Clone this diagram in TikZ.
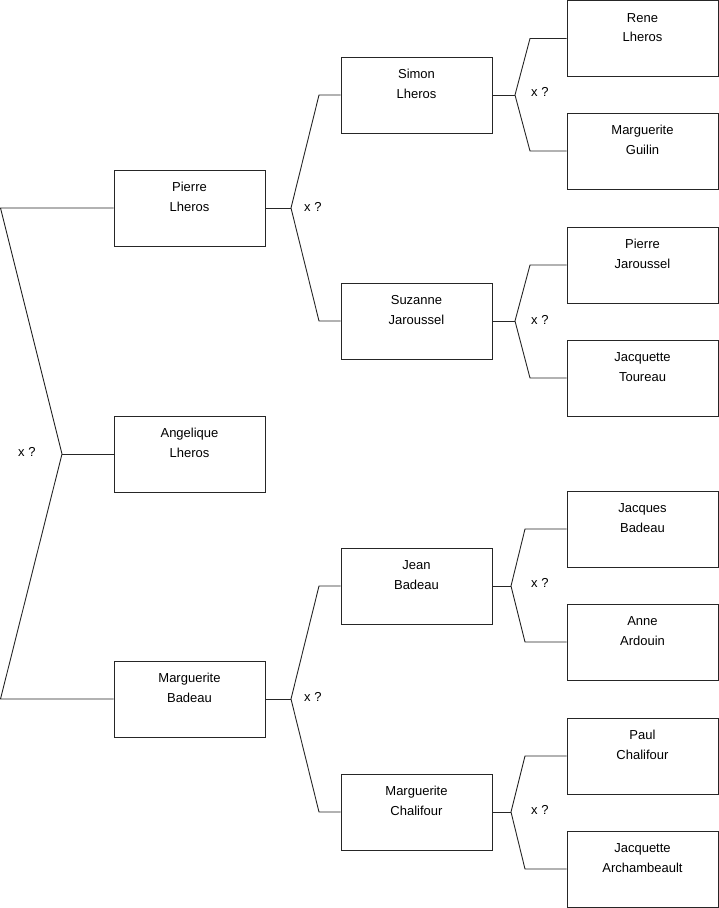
\documentclass[tikz,border=0pt]{standalone}
\usepackage{fontspec}
\setmainfont{Liberation Sans}
\begin{document}
\begin{tikzpicture}[x=1pt,y=-1pt,
  pbox/.style={draw=black!85, line width=0.9pt, rectangle, minimum width=151pt, minimum height=76pt, inner sep=0pt},
  ptext/.style={anchor=base, inner sep=0pt, font=\fontsize{13}{16}\selectfont},
  conn/.style={draw=black!85, line width=0.9pt},
  qlabel/.style={anchor=west, inner sep=0pt, font=\fontsize{13}{16}\selectfont}]
\useasboundingbox (0,0) rectangle (719,908);
\newcommand{\person}[5]{%
  \node[pbox] (#1) at (#2,#3) {};
  \node[ptext] (#1-a) at ([yshift=-22pt]#1.north) {#4};
  \node[ptext] (#1-b) at ([yshift=-41.5pt]#1.north) {#5};}
% column 1
\person{pierreL}{189.5}{208}{Pierre}{Lheros}
\person{angelique}{189.5}{454}{Angelique}{Lheros}
\person{margB}{189.5}{699}{Marguerite}{Badeau}
% column 2
\person{simon}{416.5}{95}{Simon}{Lheros}
\person{suzanne}{416.5}{321}{Suzanne}{Jaroussel}
\person{jean}{416.5}{586}{Jean}{Badeau}
\person{margC}{416.5}{812}{Marguerite}{Chalifour}
% column 3
\person{rene}{642.5}{38.5}{Rene}{Lheros}
\person{margG}{642.5}{151}{Marguerite}{Guilin}
\person{pierreJ}{642.5}{265}{Pierre}{Jaroussel}
\person{jacqT}{642.5}{378}{Jacquette}{Toureau}
\person{jacques}{642.5}{529}{Jacques}{Badeau}
\person{anne}{642.5}{642}{Anne}{Ardouin}
\person{paul}{642.5}{756}{Paul}{Chalifour}
\person{jacqA}{642.5}{869}{Jacquette}{Archambeault}
% fork coordinates
\coordinate (f0) at (62,454);
\coordinate (f0a) at (0.5,208);
\coordinate (f0b) at (0.5,699);
\coordinate (f1) at (291,208);
\coordinate (f1a) at (319,95);
\coordinate (f1b) at (319,321);
\coordinate (f2) at (291,699);
\coordinate (f2a) at (319,586);
\coordinate (f2b) at (319,812);
\coordinate (f3) at (515,95);
\coordinate (f3a) at (530,38.5);
\coordinate (f3b) at (530,151);
\coordinate (f4) at (515,321);
\coordinate (f4a) at (530,265);
\coordinate (f4b) at (530,378);
\coordinate (f5) at (511,586);
\coordinate (f5a) at (525,529);
\coordinate (f5b) at (525,642);
\coordinate (f6) at (511,812);
\coordinate (f6a) at (525,756);
\coordinate (f6b) at (525,869);
% connectors
\draw[conn] (angelique.west) -- (f0);
\draw[conn] (pierreL.west) -- (f0a) -- (f0) -- (f0b) -- (margB.west);
\draw[conn] (pierreL.east) -- (f1);
\draw[conn] (simon.west) -- (f1a) -- (f1) -- (f1b) -- (suzanne.west);
\draw[conn] (margB.east) -- (f2);
\draw[conn] (jean.west) -- (f2a) -- (f2) -- (f2b) -- (margC.west);
\draw[conn] (simon.east) -- (f3);
\draw[conn] (rene.west) -- (f3a) -- (f3) -- (f3b) -- (margG.west);
\draw[conn] (suzanne.east) -- (f4);
\draw[conn] (pierreJ.west) -- (f4a) -- (f4) -- (f4b) -- (jacqT.west);
\draw[conn] (jean.east) -- (f5);
\draw[conn] (jacques.west) -- (f5a) -- (f5) -- (f5b) -- (anne.west);
\draw[conn] (margC.east) -- (f6);
\draw[conn] (paul.west) -- (f6a) -- (f6) -- (f6b) -- (jacqA.west);
% labels
\node[qlabel] (q0) at (18,452) {x ?};
\node[qlabel] (q1) at (304,207) {x ?};
\node[qlabel] (q2) at (304,697) {x ?};
\node[qlabel] (q3) at (531,92) {x ?};
\node[qlabel] (q4) at (531,320) {x ?};
\node[qlabel] (q5) at (531,583) {x ?};
\node[qlabel] (q6) at (531,810) {x ?};
\end{tikzpicture}
\end{document}
